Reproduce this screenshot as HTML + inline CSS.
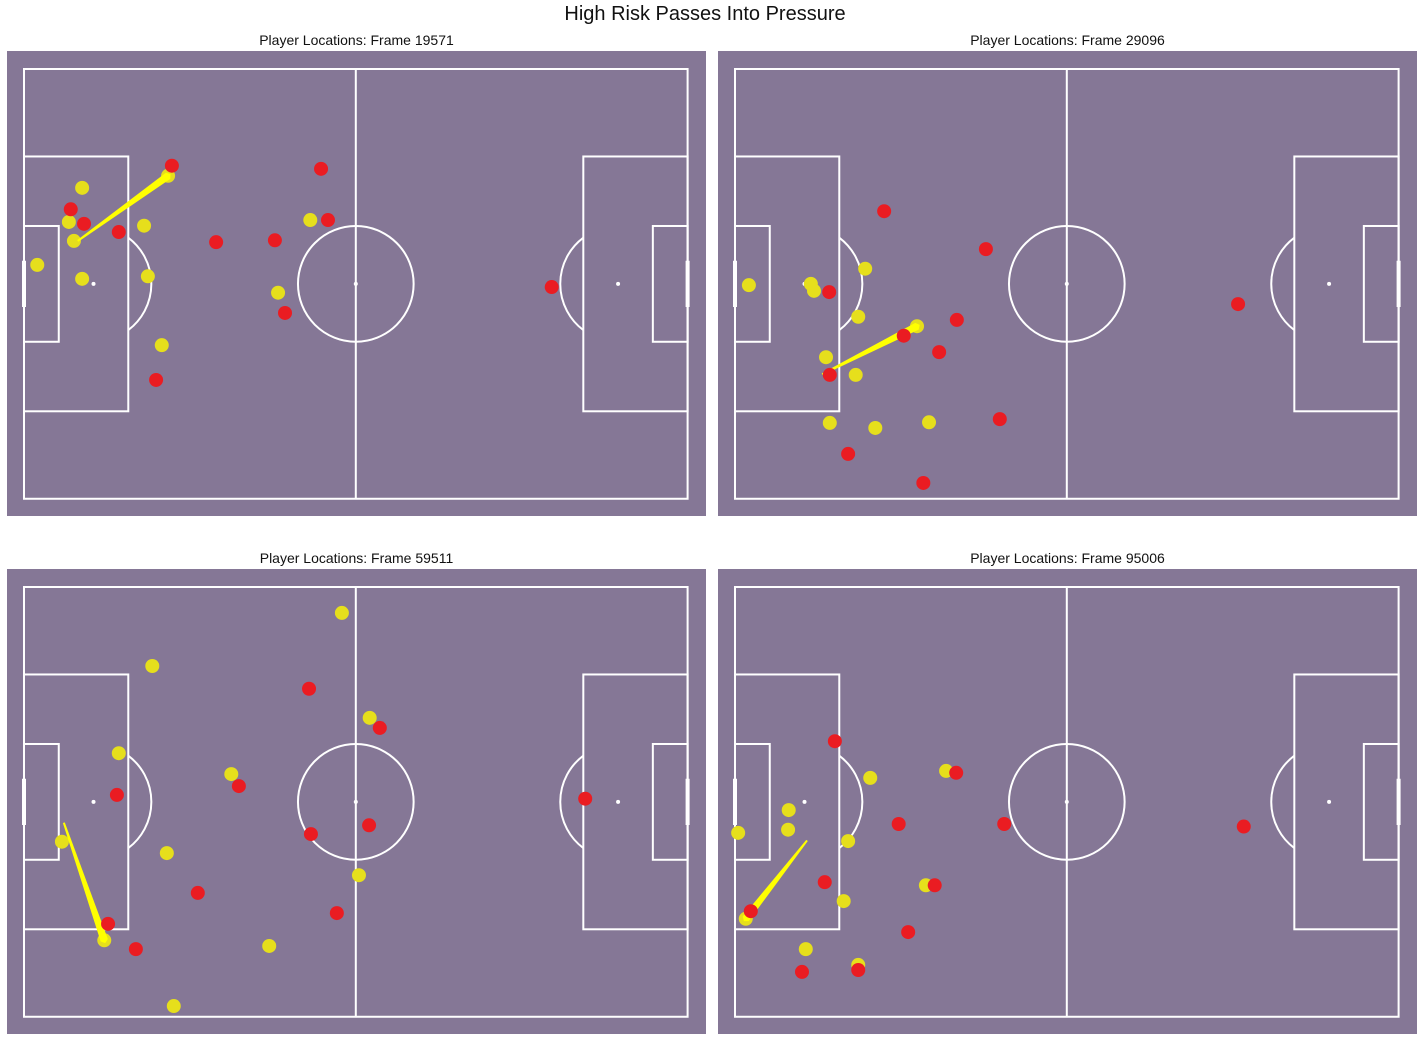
<!DOCTYPE html>
<html><head><meta charset="utf-8"><style>
html,body{margin:0;padding:0;background:#fff;}
svg{display:block;font-family:"Liberation Sans","DejaVu Sans",sans-serif;}
</style></head><body>
<svg id="c" width="1428" height="1046" viewBox="0 0 1428 1046" xmlns="http://www.w3.org/2000/svg">
<text x="705" y="20" text-anchor="middle" font-size="20" fill="#111">High Risk Passes Into Pressure</text>
</svg>
<script>
// data in metres (105 x 68 pitch)
const frames = ["19571","29096","59511","95006"];
const yellow1 = [[9.2,18.8],[7.1,24.2],[7.9,27.2],[9.2,33.2],[2.1,31.0],[19.0,24.8],[19.6,32.8],[22.8,16.9],[21.8,43.7],[40.2,35.4],[45.3,23.9]];
const red1 = [[23.4,15.3],[7.4,22.2],[9.5,24.5],[15.0,25.8],[30.4,27.4],[39.7,27.1],[47.0,15.8],[48.1,23.9],[41.3,38.6],[20.9,49.2],[83.5,34.5]];
const pass1 = [8.5,27.2,22.8,16.9];
const yellow2 = [[2.2,34.2],[12.0,34.0],[12.5,35.1],[20.6,31.6],[19.5,39.2],[28.8,40.7],[14.4,45.6],[19.1,48.4],[15.0,56.0],[22.2,56.8],[30.7,55.9]];
const red2 = [[23.6,22.5],[39.7,28.5],[14.9,35.3],[35.1,39.7],[26.7,42.2],[32.3,44.8],[15.0,48.4],[41.9,55.4],[17.9,60.9],[29.8,65.5],[79.6,37.2]];
const pass2 = [13.8,48.3,28.8,40.7];
const yellow3 = [[50.3,4.1],[20.3,12.5],[54.7,20.7],[15.0,26.3],[32.8,29.6],[6.0,40.3],[22.6,42.1],[53.0,45.6],[12.7,55.9],[38.8,56.8],[23.7,66.3]];
const red3 = [[45.1,16.1],[56.3,22.3],[14.7,32.9],[34.0,31.5],[45.4,39.1],[54.6,37.7],[27.5,48.4],[49.5,51.6],[13.3,53.3],[17.7,57.3],[88.8,33.5]];
const pass3 = [6.3,37.3,12.7,55.9];
const yellow4 = [[21.4,30.2],[33.4,29.1],[8.5,35.3],[8.4,38.4],[0.5,38.9],[17.9,40.2],[30.2,47.2],[17.2,49.7],[1.7,52.5],[11.2,57.3],[19.5,59.8]];
const red4 = [[15.8,24.4],[35.0,29.4],[25.9,37.5],[42.6,37.5],[14.2,46.7],[31.6,47.2],[27.4,54.6],[2.5,51.3],[10.6,60.9],[19.5,60.6],[80.5,37.9]];
const pass4 = [11.4,40.1,1.7,52.5];

const NS="http://www.w3.org/2000/svg";
const svg=document.getElementById('c');
function mk(tag,attrs,parent){const e=document.createElementNS(NS,tag);for(const k in attrs)e.setAttribute(k,attrs[k]);(parent||svg).appendChild(e);return e;}
const S=6.32;
const panels=[{x:7,y:51},{x:718,y:51},{x:7,y:569},{x:718,y:569}];
const ys=[yellow1,yellow2,yellow3,yellow4], rs=[red1,red2,red3,red4], ps=[pass1,pass2,pass3,pass4];
panels.forEach((p,i)=>{
  const g=mk('g',{});
  
  
  const bg=mk('rect',{x:p.x,y:p.y,width:699,height:465,fill:'#857796'},g);
  
  
  const t=mk('text',{x:p.x+349.5,y:p.y-6,'text-anchor':'middle','font-size':14,fill:'#111'},g);
  t.textContent='Player Locations: Frame '+frames[i];
  
  
  const ox=p.x+17, oy=p.y+18;
  const X=m=>ox+m*S, Y=m=>oy+m*S;
  const L=mk('g',{fill:'none',stroke:'#fff','stroke-width':2},g);
  
  
  mk('rect',{x:X(0),y:Y(0),width:105*S,height:68*S},L);
  mk('line',{x1:X(52.5),y1:Y(0),x2:X(52.5),y2:Y(68)},L);
  mk('circle',{cx:X(52.5),cy:Y(34),r:9.15*S},L);
  mk('rect',{x:X(0),y:Y(34-20.16),width:16.5*S,height:40.32*S},L);
  mk('rect',{x:X(105-16.5),y:Y(34-20.16),width:16.5*S,height:40.32*S},L);
  mk('rect',{x:X(0),y:Y(34-9.16),width:5.5*S,height:18.32*S},L);
  mk('rect',{x:X(105-5.5),y:Y(34-9.16),width:5.5*S,height:18.32*S},L);
  const a=Math.acos(5.5/9.15), r=9.15*S;
  mk('path',{d:`M${X(16.5)} ${Y(34)-r*Math.sin(a)} A${r} ${r} 0 0 1 ${X(16.5)} ${Y(34)+r*Math.sin(a)}`},L);
  mk('path',{d:`M${X(88.5)} ${Y(34)-r*Math.sin(a)} A${r} ${r} 0 0 0 ${X(88.5)} ${Y(34)+r*Math.sin(a)}`},L);
  mk('line',{x1:X(0),y1:Y(34-3.66),x2:X(0),y2:Y(34+3.66),'stroke-width':4},L);
  mk('line',{x1:X(105),y1:Y(34-3.66),x2:X(105),y2:Y(34+3.66),'stroke-width':4},L);
  [[11,34],[52.5,34],[94,34]].forEach(s=>mk('circle',{cx:X(s[0]),cy:Y(s[1]),r:2,fill:'#fff',stroke:'none'},L));
  ys[i].forEach(d=>{const c=mk('circle',{cx:X(d[0]),cy:Y(d[1]),r:7,fill:'#e6df1c'},g);
    
    });
  const q=ps[i];
  const x1=X(q[0]),y1=Y(q[1]),x2=X(q[2]),y2=Y(q[3]);
  const dx=x2-x1,dy=y2-y1,len=Math.hypot(dx,dy),nx=-dy/len,ny=dx/len,w=3.8,w0=1;
  const pa=mk('polygon',{points:`${x1+nx*w0},${y1+ny*w0} ${x2+nx*w},${y2+ny*w} ${x2+dx/len*3},${y2+dy/len*3} ${x2-nx*w},${y2-ny*w} ${x1-nx*w0},${y1-ny*w0}`,fill:'#ffff00'},g);
  
  
  rs[i].forEach(d=>{const c=mk('circle',{cx:X(d[0]),cy:Y(d[1]),r:7,fill:'#ea1c22'},g);
    
    });
});
</script>
</body></html>
